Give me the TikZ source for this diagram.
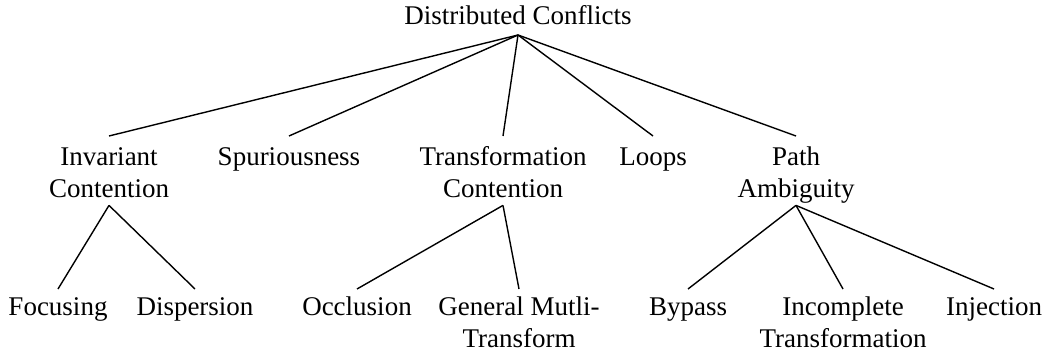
\documentclass[tikz,border=0pt]{standalone}
\usepackage{fontspec}
\setmainfont{Liberation Serif}
\newcommand\ls{\rule[-8pt]{0pt}{32pt}}
\newcommand\ptop{\rule{0pt}{29pt}}
\newcommand\ctop{\rule{0pt}{26pt}}
\begin{document}
\begin{tikzpicture}[x=1pt,y=-1pt,
  every node/.style={inner sep=0pt, align=center, font=\fontsize{27}{32}\selectfont},
  parent/.style={anchor=north},
  leaf/.style={anchor=north},
  edge/.style={draw=black, line width=1.4pt}]
\useasboundingbox (0,0) rectangle (1051,358);
\node[anchor=south] (root) at (518,35) {\rule[-10pt]{0pt}{30pt}Distributed Conflicts};
\node[parent] (inv) at (109,136) {\ptop\ls Invariant\\\ls Contention};
\node[parent] (spur) at (289,136) {\ptop\ls Spuriousness};
\node[parent] (trans) at (503,136) {\ptop\ls Transformation\\\ls Contention};
\node[parent] (loops) at (653,136) {\ptop\ls Loops};
\node[parent] (path) at (796,136) {\ptop\ls Path\\\ls Ambiguity};
\node[leaf] (foc) at (58,289) {\ctop\ls Focusing};
\node[leaf] (disp) at (195,289) {\ctop\ls Dispersion};
\node[leaf] (occ) at (357,289) {\ctop\ls Occlusion};
\node[leaf] (gmt) at (519,289) {\ctop\ls General Mutli-\\\ls Transform};
\node[leaf] (byp) at (688,289) {\ctop\ls Bypass};
\node[leaf] (inc) at (843,289) {\ctop\ls Incomplete\\\ls Transformation};
\node[leaf] (inj) at (994,289) {\ctop\ls Injection};
\foreach \c in {inv,spur,trans,loops,path} \draw[edge] (root.south) -- (\c.north);
\foreach \c in {foc,disp} \draw[edge] (inv.south) -- (\c.north);
\foreach \c in {occ,gmt} \draw[edge] (trans.south) -- (\c.north);
\foreach \c in {byp,inc,inj} \draw[edge] (path.south) -- (\c.north);
\end{tikzpicture}
\end{document}
